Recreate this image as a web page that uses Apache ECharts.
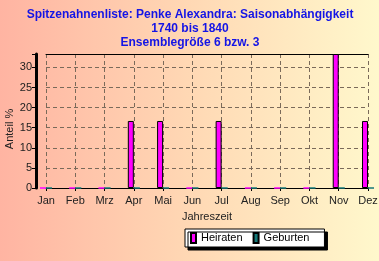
<!DOCTYPE html>
<html><head><meta charset="utf-8">
<script src="https://cdn.jsdelivr.net/npm/echarts@6/dist/echarts.min.js"></script>
<style>html,body{margin:0;padding:0;}#c{width:379px;height:261px;background:linear-gradient(90deg,#ffb4a2 0%,#ffd8b4 50%,#fff8cc 100%);}</style>
</head><body><div id="c"></div>
<script>
const months = ['Jan','Feb','Mrz','Apr','Mai','Jun','Jul','Aug','Sep','Okt','Nov','Dez'];
const heiraten = [0,0,0,16.67,16.67,0,16.67,0,0,0,33.33,16.67];
const geburten = [0,0,0,0,0,0,0,0,0,0,0,0];
const yTicks = [0,5,10,15,20,25,30];
const titleLines = ['Spitzenahnenliste: Penke Alexandra: Saisonabhängigkeit','1740 bis 1840','Ensemblegröße 6 bzw. 3'];

const HEI = '#ff00ff', GEB = '#147878';
const chart = echarts.init(document.getElementById('c'), null, {renderer:'canvas'});
const font = 'Liberation Sans, Arial, sans-serif';
const toData = (arr, col) => arr.map(v => v === 0 ? {value:v, itemStyle:{borderColor:col}} : v);
chart.setOption({
  animation:false,
  title:{text:titleLines.join('\n'), left:190, textAlign:'center', top:8, padding:0,
    textStyle:{color:'#1414e6', fontSize:12, fontWeight:'bold', fontFamily:font, lineHeight:14}},
  grid:{left:46, right:11, top:54, bottom:73, outerBoundsMode:'none', containLabel:false},
  legend:{data:['Heiraten','Geburten'], left:185, top:229, orient:'horizontal',
    backgroundColor:'#ffffff', borderColor:'#000', borderWidth:1, borderRadius:0,
    padding:[3,15,3,5], itemGap:10, itemWidth:5, itemHeight:10, icon:'rect',
    shadowColor:'#000', shadowOffsetX:3, shadowOffsetY:3, shadowBlur:0.01,
    textStyle:{fontSize:11, color:'#000', fontFamily:font}},
  xAxis:[{type:'category', data:months, boundaryGap:false,
    name:'Jahreszeit', nameLocation:'middle', nameGap:23, nameMoveOverlap:false,
    nameTextStyle:{fontSize:11, color:'#222', fontFamily:font},
    axisLine:{lineStyle:{color:'#000', width:1}},
    axisTick:{show:true, length:3, lineStyle:{color:'#000'}},
    axisLabel:{fontSize:11, color:'#222', fontFamily:font, margin:7},
    splitLine:{show:true, lineStyle:{type:[4,3], color:'#7a6a5a', width:1}}},
   {type:'category', data:months, boundaryGap:false, position:'top',
    axisLine:{lineStyle:{color:'#000', width:1}}, axisTick:{show:false}, axisLabel:{show:false}, splitLine:{show:false}}],
  yAxis:{type:'value', min:0, max:Math.max(...heiraten), interval:5, offset:10,
    name:'Anteil %', nameLocation:'middle', nameGap:21, nameMoveOverlap:false,
    nameTextStyle:{fontSize:11, color:'#222', fontFamily:font, padding:[0,0,0,-16]},
    axisLine:{show:true, lineStyle:{color:'#000', width:3}},
    axisTick:{show:true, length:4, lineStyle:{color:'#000'}},
    axisLabel:{fontSize:11, color:'#222', fontFamily:font, margin:4,
      formatter:v=>yTicks.includes(v)?String(v):''},
    splitLine:{show:true, lineStyle:{type:[4,3], color:'#7a6a5a', width:1}}},
  series:[
    {name:'Heiraten', type:'bar', data:toData(heiraten, HEI), barWidth:6, barGap:'0%',
     itemStyle:{color:HEI, borderColor:'#000', borderWidth:1}},
    {name:'Geburten', type:'bar', data:toData(geburten, GEB), barWidth:6, barGap:'0%',
     itemStyle:{color:GEB, borderColor:'#000', borderWidth:1}}
  ]
});
</script></body></html>
